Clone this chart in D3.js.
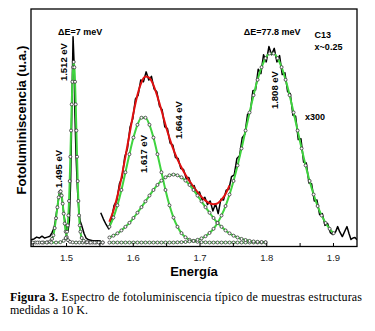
<!DOCTYPE html>
<html lang="es">
<head>
<meta charset="utf-8">
<title>Espectro PL</title>
<script src="https://d3js.org/d3.v7.min.js"></script>
<style>
    body { margin: 0; background: #fff; }
    .frame { fill: none; stroke: #000; stroke-width: 1.3; }
    .tick text { font-family: "Liberation Sans", Arial, sans-serif; font-size: 9.5px; fill: #222; }
    .tick line { stroke: #000; stroke-width: 1; }
    .spec { fill: none; stroke: #000; stroke-width: 1.5; stroke-linejoin: round; }
    .sum { fill: none; stroke: #e01010; stroke-width: 2; }
    .fit { fill: none; stroke: #3fd43f; stroke-width: 2; }
    .mk { fill: #fff; stroke: #333; stroke-width: 0.8; }
    .ann { font-family: "Liberation Sans", Arial, sans-serif; font-weight: bold; font-size: 9px; fill: #000; }
    .axlab { font-family: "Liberation Sans", Arial, sans-serif; font-weight: bold; fill: #000; }
    .cap { font-family: "Liberation Serif", "Times New Roman", serif; font-size: 12px; fill: #000; }
</style>
</head>
<body>
<div id="chart"></div>
<script>
    // ticks
    const majorTicks = [1.5, 1.6, 1.7, 1.8, 1.9];
    const minorTicks = [1.45, 1.55, 1.65, 1.75, 1.85];

    // measured spectrum, x1 part [energy eV, intensity]
    const specLow = [
        [1.447, 1.5], [1.452, 2.0], [1.456, 3.0], [1.460, 2.5], [1.464, 3.5], [1.468, 2.5],
        [1.472, 3.0], [1.476, 3.5], [1.479, 5.5], [1.482, 8.0], [1.484, 12.0], [1.486, 17.5],
        [1.488, 22.0], [1.490, 27.5], [1.4915, 29.0], [1.493, 27.0], [1.495, 21.0], [1.497, 15.0],
        [1.499, 10.0], [1.501, 7.0], [1.503, 6.5], [1.505, 12.0], [1.507, 35.0], [1.509, 80.0],
        [1.5105, 114.0], [1.512, 100.0], [1.513, 75.0], [1.515, 48.0], [1.517, 30.0], [1.519, 19.0],
        [1.521, 12.0], [1.523, 10.0], [1.525, 7.5], [1.527, 5.0], [1.530, 2.5], [1.534, 1.5],
        [1.540, 1.0], [1.546, 1.0], [1.552, 1.0]
    ];

    // measured spectrum, x300 part
    const specHigh = [
        [1.552, 16.5], [1.556, 13.0], [1.560, 10.0], [1.564, 7.5], [1.568, 13.0], [1.572, 20.5],
        [1.576, 23.0], [1.580, 32.5], [1.584, 36.0], [1.588, 47.5], [1.592, 52.0], [1.596, 64.0],
        [1.600, 68.5], [1.604, 79.5], [1.608, 81.5], [1.612, 90.0], [1.616, 89.0], [1.620, 94.5],
        [1.624, 90.0], [1.628, 92.0], [1.632, 85.0], [1.636, 83.5], [1.640, 75.5], [1.644, 73.5],
        [1.648, 64.0], [1.652, 63.0], [1.656, 55.0], [1.660, 54.0], [1.664, 47.0], [1.668, 46.5],
        [1.672, 41.0], [1.676, 40.5], [1.680, 35.5], [1.684, 36.0], [1.688, 31.0], [1.692, 31.5],
        [1.696, 27.0], [1.700, 28.0], [1.704, 23.5], [1.708, 25.0], [1.712, 21.0], [1.716, 23.0],
        [1.720, 17.5], [1.724, 21.5], [1.728, 16.0], [1.732, 24.0], [1.736, 23.5], [1.740, 29.0],
        [1.744, 29.5], [1.748, 36.5], [1.752, 37.5], [1.756, 46.5], [1.760, 48.0], [1.764, 58.0],
        [1.768, 60.0], [1.772, 71.0], [1.776, 72.0], [1.780, 84.0], [1.784, 84.5], [1.788, 96.0],
        [1.792, 93.5], [1.796, 104.0], [1.800, 100.0], [1.804, 108.5], [1.808, 104.0], [1.812, 107.5],
        [1.816, 100.0], [1.820, 103.5], [1.824, 93.0], [1.828, 94.0], [1.832, 83.5], [1.836, 82.5],
        [1.840, 70.5], [1.844, 70.0], [1.848, 57.0], [1.852, 57.5], [1.856, 44.5], [1.860, 44.0],
        [1.864, 33.0], [1.868, 32.5], [1.872, 23.0], [1.876, 23.5], [1.880, 15.5], [1.884, 16.0],
        [1.888, 9.5], [1.892, 10.5], [1.896, 5.5], [1.900, 4.4], [1.904, 6.0], [1.907, 8.8],
        [1.910, 6.0], [1.914, 3.3], [1.918, 6.5], [1.921, 8.8], [1.924, 5.0], [1.927, 1.7],
        [1.930, 2.5], [1.933, 2.8], [1.936, 1.5]
    ];

    // fitted peak 1.495 eV
    const fit1495 = [
        [1.448, 0], [1.454, 0], [1.460, 0], [1.466, 0], [1.472, 0.1], [1.476, 0.6], [1.479, 2.0],
        [1.481, 4.0], [1.483, 8.0], [1.485, 13.5], [1.487, 19.5], [1.489, 25.0], [1.4905, 27.8],
        [1.492, 28.3], [1.4935, 26.0], [1.495, 21.5], [1.4965, 16.0], [1.498, 10.5], [1.4995, 6.0],
        [1.501, 3.0], [1.503, 1.3], [1.506, 0.4], [1.510, 0.1], [1.515, 0], [1.520, 0], [1.525, 0],
        [1.530, 0], [1.535, 0], [1.540, 0], [1.545, 0], [1.550, 0], [1.555, 0]
    ];

    // fitted peak 1.512 eV
    const fit1512 = [
        [1.450, 0], [1.457, 0], [1.464, 0], [1.471, 0], [1.478, 0], [1.485, 0], [1.4915, 0.2],
        [1.4965, 1.0], [1.4995, 2.5], [1.5015, 6], [1.5025, 9.5], [1.5035, 15], [1.5045, 23],
        [1.5055, 34], [1.5065, 47.5], [1.5075, 62], [1.5085, 76.5], [1.5095, 89], [1.5105, 97],
        [1.5115, 100], [1.5125, 97], [1.5135, 89], [1.5145, 76.5], [1.5155, 62], [1.5165, 47.5],
        [1.5175, 34], [1.5185, 23], [1.5195, 15], [1.5205, 9.5], [1.5215, 6], [1.5235, 2.5],
        [1.5265, 1.0], [1.5315, 0.2], [1.537, 0], [1.543, 0], [1.549, 0], [1.555, 0]
    ];

    // energies of the x300 fits
    const fitE = [
        1.565, 1.571, 1.577, 1.583, 1.589, 1.595, 1.601, 1.607, 1.613, 1.619,
        1.625, 1.631, 1.637, 1.643, 1.649, 1.655, 1.661, 1.667, 1.673, 1.679,
        1.685, 1.691, 1.697, 1.703, 1.709, 1.715, 1.721, 1.727, 1.733, 1.739,
        1.745, 1.751, 1.757, 1.763, 1.769, 1.775, 1.781, 1.787, 1.793, 1.799,
        1.805, 1.811, 1.817, 1.823, 1.829, 1.835, 1.841, 1.847, 1.853, 1.859,
        1.865, 1.871, 1.877, 1.883, 1.889, 1.895, 1.901
    ];
    const fit1617 = [
        8.7, 13.8, 20.6, 29.1, 38.9, 48.9, 58.1, 65.2, 69.1, 69.1,
        65.2, 58.1, 48.9, 38.9, 29.1, 20.6, 13.8, 8.7, 5.2, 2.9,
        1.5, 0.8, 0.4, 0.2, 0.1, 0, 0, 0, 0, 0,
        0, 0, 0, 0, 0, 0, 0, 0, 0, 0
    ];
    const fit1664 = [
        2.8, 3.8, 5.1, 6.7, 8.7, 10.9, 13.6, 16.5, 19.6, 22.8,
        26.0, 29.1, 31.9, 34.3, 36.1, 37.2, 37.6, 37.2, 36.1, 34.3,
        31.9, 29.1, 26.0, 22.8, 19.6, 16.5, 13.6, 10.9, 8.7, 6.7,
        5.1, 3.8, 2.8, 2.0, 1.4, 0.9, 0.6, 0.4, 0.3, 0.2
    ];
    const fit1808 = [
        0, 0, 0, 0, 0, 0, 0, 0, 0, 0,
        0, 0, 0, 0, 0, 0, 0, 0.1, 0.2, 0.3,
        0.6, 0.9, 1.5, 2.3, 3.5, 5.3, 7.6, 10.8, 15.0, 20.2,
        26.6, 34.1, 42.7, 52.1, 62.0, 72.0, 81.6, 90.1, 97.1, 102.1,
        104.7, 104.7, 102.1, 97.1, 90.1, 81.6, 72.0, 62.0, 52.1, 42.7,
        34.1, 26.6, 20.2, 15.0, 10.8, 7.6, 5.2
    ];
    const fitSum = [
        11.5, 17.6, 25.7, 35.8, 47.6, 59.8, 71.7, 81.7, 88.7, 91.9,
        91.2, 87.2, 80.8, 73.2, 65.2, 57.8, 51.4, 46.0, 41.5, 37.5,
        34.0, 30.8, 27.9, 25.3, 23.2, 21.8, 21.2, 21.7, 23.7, 26.9,
        31.7
    ];

    const W = 375, H = 331;
    const plot = {left: 31, top: 9, right: 357, bottom: 246.5};

    const svg = d3.select("#chart").append("svg")
        .attr("width", W).attr("height", H)
        .style("display", "block").style("background", "#fff");

    const x = d3.scaleLinear().domain([1.4475, 1.936]).range([plot.left, plot.right]);
    const y = d3.scaleLinear().domain([-2.2, 129.3]).range([plot.bottom, plot.top]);

    svg.append("clipPath").attr("id", "clip").append("rect")
        .attr("x", plot.left).attr("y", plot.top)
        .attr("width", plot.right - plot.left).attr("height", plot.bottom - plot.top);

    const zip = vals => vals.map((v, i) => [fitE[i], v]);

    const line = d3.line().x(d => x(d[0])).y(d => y(d[1]));
    const smooth = d3.line().x(d => x(d[0])).y(d => y(d[1])).curve(d3.curveMonotoneX);

    const g = svg.append("g").attr("clip-path", "url(#clip)");

    // measured data
    [specLow, specHigh].forEach(s => g.append("path").datum(s).attr("class", "spec").attr("d", line));

    // sum of fits
    g.append("path").datum(zip(fitSum)).attr("class", "sum").attr("d", smooth);

    // individual fits with open circles
    const fits = [fit1495, fit1512, zip(fit1617), zip(fit1664), zip(fit1808)];
    fits.forEach(f => g.append("path").datum(f).attr("class", "fit").attr("d", smooth));
    fits.forEach(f => g.append("g").selectAll("circle").data(f).join("circle")
        .attr("class", "mk")
        .attr("cx", d => x(d[0])).attr("cy", d => y(d[1]))
        .attr("r", 1.5));

    // frame
    svg.append("rect").attr("class", "frame")
        .attr("x", plot.left).attr("y", plot.top)
        .attr("width", plot.right - plot.left).attr("height", plot.bottom - plot.top);

    // x axis (ticks inside)
    svg.append("g").attr("transform", `translate(0,${plot.bottom})`)
        .call(d3.axisBottom(x).tickValues(majorTicks).tickSize(-3.5).tickPadding(8).tickFormat(d3.format(".1f")))
        .call(a => a.select(".domain").remove());
    svg.append("g").attr("transform", `translate(0,${plot.bottom})`)
        .call(d3.axisBottom(x).tickValues(minorTicks).tickSize(-3.5).tickFormat(""))
        .call(a => a.select(".domain").remove());

    // axis titles
    svg.append("text").attr("class", "axlab").style("font-size", "13px")
        .attr("x", 194).attr("y", 276).attr("text-anchor", "middle").text("Energía");
    svg.append("text").attr("class", "axlab").style("font-size", "13px")
        .attr("transform", "translate(26,120) rotate(-90)")
        .attr("text-anchor", "middle").text("Fotoluminiscencia (u.a.)");

    // annotations
    const flat = [
        ["ΔE=7 meV", 1.521, 114.9, "middle"],
        ["ΔE=77.8 meV", 1.8087, 114.9, "middle"],
        ["C13", 1.8725, 113.2, "start"],
        ["x~0.25", 1.8725, 106.6, "start"],
        ["x300", 1.858, 67.8, "start"]
    ];
    svg.selectAll("text.flat").data(flat).join("text")
        .attr("class", "ann flat")
        .attr("x", d => x(d[1])).attr("y", d => y(d[2]))
        .attr("text-anchor", d => d[3]).text(d => d[0]);

    const rotated = [
        ["1.512 eV", 1.497, 99.9],
        ["1.495 eV", 1.4895, 40.7],
        ["1.617 eV", 1.6168, 49],
        ["1.664 eV", 1.6693, 67.8],
        ["1.808 eV", 1.8131, 84.4]
    ];
    svg.selectAll("text.rot").data(rotated).join("text")
        .attr("class", "ann rot").style("font-size", "9.5px")
        .attr("transform", d => `translate(${x(d[1])},${y(d[2])}) rotate(-90)`)
        .attr("text-anchor", "middle").attr("dy", "0.35em")
        .text(d => d[0]);

    // caption
    const cap = svg.append("text").attr("class", "cap").attr("x", 10).attr("y", 301)
        .attr("textLength", 352).attr("lengthAdjust", "spacing");
    cap.append("tspan").style("font-weight", "bold").text("Figura 3.");
    cap.append("tspan").text(" Espectro de fotoluminiscencia típico de muestras estructuras");
    svg.append("text").attr("class", "cap").attr("x", 10).attr("y", 314).text("medidas a 10 K.");
</script>
</body>
</html>
